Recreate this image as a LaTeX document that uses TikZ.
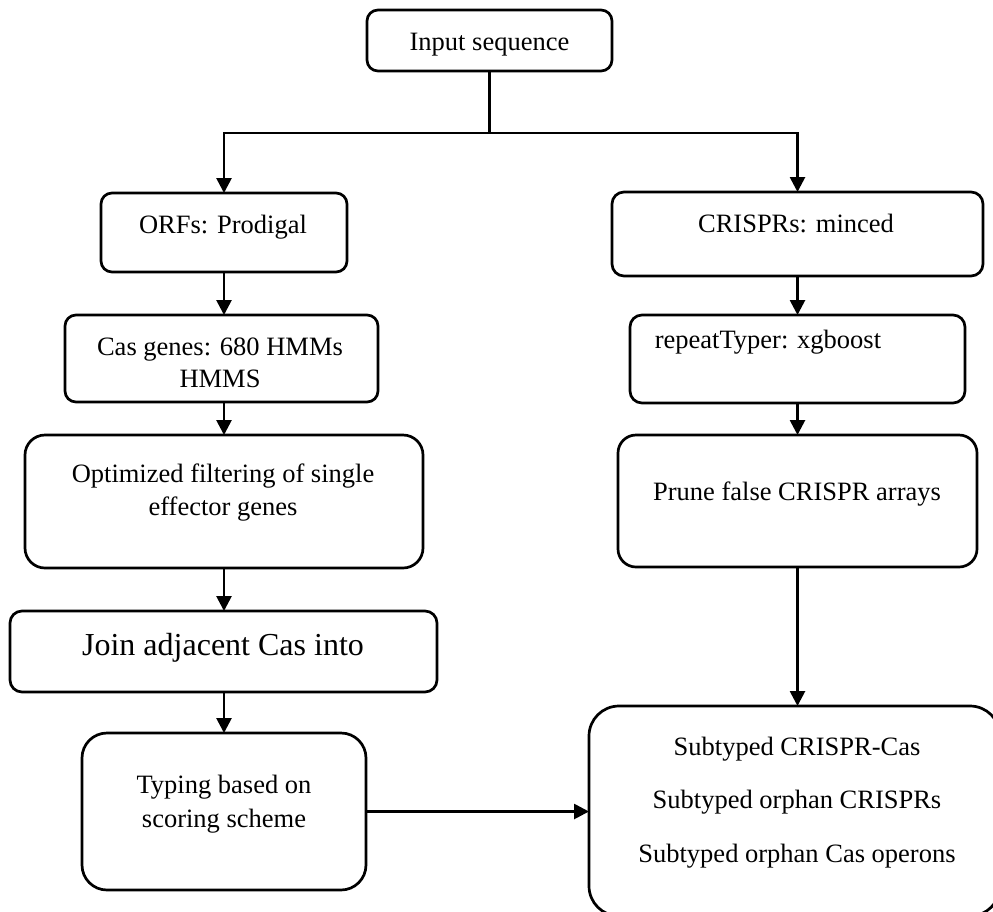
\documentclass[tikz,border=0pt]{standalone}
\usepackage{fontspec}
\setmainfont{Liberation Serif}
\usetikzlibrary{arrows.meta}
\begin{document}
\begin{tikzpicture}[x=1pt,y=-1pt,
  box/.style={draw, line width=2.7pt, rectangle, inner sep=0pt, outer sep=0pt},
  txt/.style={anchor=base, inner sep=0pt, font=\fontsize{26.5}{33}\selectfont},
  bigtxt/.style={anchor=base, inner sep=0pt, font=\fontsize{32}{38}\selectfont},
  conn/.style={line width=2.7pt},
  arr/.style={line width=2.7pt, -{Triangle[length=15pt,width=15pt]}}]
\clip (0,0) rectangle (993,911);
\fill[white] (0,0) rectangle (993,911);
% boxes
\node[box, rounded corners=11pt, minimum width=245pt, minimum height=61pt] (in) at (489.5,40.5) {};
\node[box, rounded corners=11pt, minimum width=246pt, minimum height=79pt] (orf) at (224,232.5) {};
\node[box, rounded corners=11pt, minimum width=313pt, minimum height=87pt] (cas) at (221.5,358.5) {};
\node[box, rounded corners=20pt, minimum width=398pt, minimum height=133pt] (opt) at (224,501.5) {};
\node[box, rounded corners=12pt, minimum width=427pt, minimum height=81pt] (join) at (223.5,651.5) {};
\node[box, rounded corners=25pt, minimum width=284pt, minimum height=157pt] (typ) at (224,811.5) {};
\node[box, rounded corners=12pt, minimum width=371pt, minimum height=84pt] (cr) at (797.5,234) {};
\node[box, rounded corners=12pt, minimum width=335pt, minimum height=88pt] (rt) at (797.5,359) {};
\node[box, rounded corners=18pt, minimum width=359pt, minimum height=132pt] (pr) at (797.5,501) {};
\node[box, rounded corners=30pt, minimum width=411pt, minimum height=210pt] (fin) at (794.5,811) {};
% texts
\node[txt] (tin) at (489.5,50) {Input sequence};
\node[txt] (torf) at (223,233) {ORFs: Prodigal};
\node[txt] (tcas1) at (220,355) {Cas genes: 680 HMMs};
\node[txt] (tcas2) at (220,387) {HMMS};
\node[txt] (topt1) at (223,482) {Optimized filtering of single};
\node[txt] (topt2) at (223,515) {effector genes};
\node[bigtxt] (tjoin) at (223,655) {Join adjacent Cas into};
\node[txt] (ttyp1) at (224,793) {Typing based on};
\node[txt] (ttyp2) at (224,827) {scoring scheme};
\node[txt] (tcr) at (796,232) {CRISPRs: minced};
\node[txt] (trt) at (768,348) {repeatTyper: xgboost};
\node[txt] (tpr) at (797,500) {Prune false CRISPR arrays};
\node[txt] (tfin1) at (797,755) {Subtyped CRISPR-Cas};
\node[txt] (tfin2) at (797,808) {Subtyped orphan CRISPRs};
\node[txt] (tfin3) at (797,862) {Subtyped orphan Cas operons};
% connectors
\coordinate (j) at (489.5,133);
\draw[conn] (in.south) -- (j);
\draw[arr] (j) -| (orf.north);
\draw[arr] (j) -| (cr.north);
\draw[arr] (orf.south) -- (orf.south |- cas.north);
\draw[arr] (orf.south |- cas.south) -- (orf.south |- opt.north);
\draw[arr] (opt.south) -- (opt.south |- join.north);
\draw[arr] (opt.south |- join.south) -- (opt.south |- typ.north);
\draw[arr] (typ.east) -- (typ.east -| fin.west);
\draw[arr] (cr.south) -- (rt.north);
\draw[arr] (rt.south) -- (pr.north);
\draw[arr] (pr.south) -- (pr.south |- fin.north);
\end{tikzpicture}
\end{document}
